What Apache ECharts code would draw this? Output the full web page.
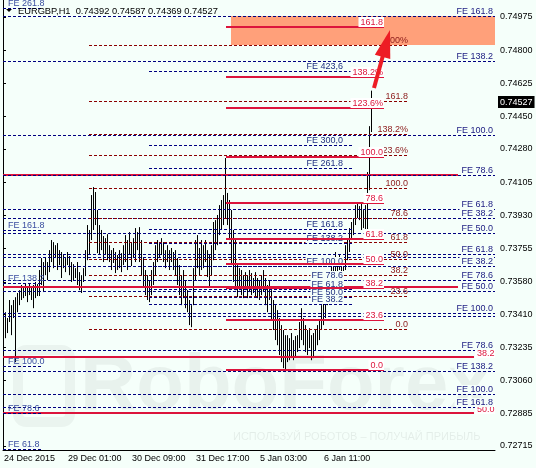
<!DOCTYPE html>
<html><head><meta charset="utf-8">
<script src="https://cdn.jsdelivr.net/npm/echarts@6/dist/echarts.min.js"></script>
<style>html,body{margin:0;padding:0;background:#F5FFFA}#c{width:536px;height:468px}</style>
</head><body><div id="c"></div>
<script>
// ---------- DATA ----------
const symbolName = 'EURGBP,H1';
const slotCount = 246;
const xTickIndex = [0, 32, 64, 96, 128, 160];
const xTickLabels = ['24 Dec 2015', '29 Dec 01:00', '30 Dec 09:00', '31 Dec 17:00', '5 Jan 03:00', '6 Jan 11:00'];
const yTickValues = [0.74975, 0.74800, 0.74625, 0.74450, 0.74280, 0.74105, 0.73930, 0.73755, 0.73580, 0.73410, 0.73235, 0.73060, 0.72885, 0.72715];
const yMin = 0.726939, yMax = 0.750646;

// H1 bars: [open, close, low, high]
const bars = [
[0.73431,0.73352,0.73326,0.73457],[0.73352,0.73389,0.73283,0.73420],[0.73389,0.73336,0.73310,0.73389],[0.73378,0.73457,0.73368,0.73484],
[0.73457,0.73326,0.73299,0.73457],[0.73405,0.73473,0.73389,0.73484],[0.73473,0.73484,0.73157,0.73499],[0.73484,0.73505,0.73420,0.73521],
[0.73494,0.73526,0.73457,0.73536],[0.73526,0.73536,0.73484,0.73563],[0.73536,0.73515,0.73494,0.73547],[0.73515,0.73547,0.73505,0.73573],
[0.73547,0.73505,0.73473,0.73557],[0.73510,0.73552,0.73510,0.73568],[0.73547,0.73499,0.73484,0.73552],[0.73499,0.73536,0.73441,0.73563],
[0.73536,0.73557,0.73494,0.73579],[0.73557,0.73536,0.73505,0.73568],[0.73536,0.73615,0.73505,0.73642],[0.73615,0.73684,0.73563,0.73705],
[0.73684,0.73563,0.73526,0.73684],[0.73631,0.73694,0.73615,0.73710],[0.73684,0.73615,0.73589,0.73684],[0.73642,0.73721,0.73631,0.73747],
[0.73721,0.73773,0.73684,0.73800],[0.73773,0.73684,0.73652,0.73789],[0.73705,0.73758,0.73705,0.73773],[0.73758,0.73668,0.73642,0.73784],
[0.73684,0.73721,0.73668,0.73747],[0.73721,0.73631,0.73600,0.73737],[0.73652,0.73694,0.73652,0.73721],[0.73694,0.73652,0.73631,0.73705],
[0.73668,0.73716,0.73668,0.73737],[0.73705,0.73642,0.73615,0.73716],[0.73642,0.73610,0.73579,0.73684],[0.73610,0.73652,0.73589,0.73673],
[0.73642,0.73615,0.73600,0.73652],[0.73615,0.73589,0.73563,0.73684],[0.73589,0.73557,0.73536,0.73631],[0.73557,0.73600,0.73521,0.73615],
[0.73600,0.73631,0.73579,0.73652],[0.73631,0.73721,0.73610,0.73747],[0.73721,0.73842,0.73694,0.73879],[0.73842,0.73758,0.73721,0.73853],
[0.73800,0.74011,0.73800,0.74037],[0.74011,0.73932,0.73853,0.74079],[0.73932,0.73984,0.73879,0.74053],[0.73958,0.73800,0.73731,0.73958],
[0.73800,0.73826,0.73721,0.73879],[0.73826,0.73773,0.73747,0.73853],[0.73773,0.73800,0.73684,0.73821],[0.73800,0.73747,0.73721,0.73810],
[0.73747,0.73800,0.73694,0.73831],[0.73758,0.73705,0.73684,0.73773],[0.73705,0.73684,0.73642,0.73747],[0.73684,0.73737,0.73679,0.73758],
[0.73721,0.73652,0.73626,0.73737],[0.73663,0.73694,0.73642,0.73721],[0.73694,0.73721,0.73652,0.73747],[0.73705,0.73652,0.73631,0.73731],
[0.73668,0.73747,0.73668,0.73773],[0.73747,0.73800,0.73684,0.73826],[0.73789,0.73684,0.73642,0.73800],[0.73721,0.73810,0.73721,0.73842],
[0.73773,0.73694,0.73663,0.73784],[0.73705,0.73789,0.73705,0.73810],[0.73773,0.73826,0.73684,0.73863],[0.73826,0.73768,0.73747,0.73842],
[0.73773,0.73721,0.73684,0.73868],[0.73721,0.73652,0.73615,0.73800],[0.73652,0.73589,0.73552,0.73705],[0.73589,0.73536,0.73510,0.73642],
[0.73536,0.73563,0.73484,0.73615],[0.73563,0.73510,0.73473,0.73589],[0.73510,0.73615,0.73510,0.73642],[0.73615,0.73668,0.73563,0.73684],
[0.73652,0.73747,0.73615,0.73773],[0.73747,0.73705,0.73684,0.73800],[0.73716,0.73758,0.73705,0.73784],[0.73758,0.73773,0.73721,0.73810],
[0.73773,0.73705,0.73684,0.73789],[0.73705,0.73726,0.73652,0.73747],[0.73726,0.73747,0.73684,0.73773],[0.73747,0.73668,0.73642,0.73747],
[0.73684,0.73737,0.73684,0.73758],[0.73726,0.73663,0.73642,0.73737],[0.73663,0.73705,0.73615,0.73747],[0.73694,0.73589,0.73563,0.73705],
[0.73589,0.73536,0.73510,0.73668],[0.73547,0.73494,0.73457,0.73615],[0.73505,0.73600,0.73494,0.73642],[0.73589,0.73473,0.73441,0.73589],
[0.73484,0.73441,0.73420,0.73536],[0.73452,0.73389,0.73352,0.73484],[0.73389,0.73431,0.73341,0.73457],[0.73457,0.73615,0.73457,0.73652],
[0.73615,0.73758,0.73589,0.73800],[0.73758,0.73705,0.73652,0.73826],[0.73705,0.73737,0.73615,0.73758],[0.73737,0.73684,0.73642,0.73800],
[0.73684,0.73747,0.73652,0.73773],[0.73747,0.73721,0.73684,0.73800],[0.73721,0.73642,0.73605,0.73747],[0.73642,0.73684,0.73552,0.73721],
[0.73684,0.73747,0.73615,0.73773],[0.73747,0.73863,0.73694,0.73895],[0.73863,0.73800,0.73747,0.73905],[0.73800,0.73895,0.73773,0.73932],
[0.73895,0.73947,0.73826,0.73984],[0.73947,0.73916,0.73853,0.74011],[0.73916,0.73984,0.73879,0.74037],[0.73984,0.74011,0.73916,0.74232],
[0.74011,0.73932,0.73879,0.74048],[0.73932,0.73826,0.73800,0.74011],[0.73826,0.73721,0.73668,0.73958],[0.73721,0.73642,0.73579,0.73853],
[0.73642,0.73589,0.73536,0.73800],[0.73589,0.73563,0.73499,0.73668],[0.73563,0.73615,0.73536,0.73652],[0.73615,0.73536,0.73510,0.73642],
[0.73536,0.73589,0.73494,0.73615],[0.73589,0.73563,0.73536,0.73631],[0.73563,0.73600,0.73494,0.73615],[0.73600,0.73547,0.73526,0.73642],
[0.73547,0.73589,0.73510,0.73626],[0.73589,0.73536,0.73521,0.73600],[0.73536,0.73600,0.73505,0.73631],[0.73600,0.73526,0.73494,0.73600],
[0.73526,0.73563,0.73484,0.73589],[0.73563,0.73536,0.73510,0.73615],[0.73536,0.73615,0.73526,0.73642],[0.73600,0.73484,0.73457,0.73600],
[0.73484,0.73536,0.73420,0.73563],[0.73536,0.73505,0.73484,0.73589],[0.73505,0.73405,0.73378,0.73536],[0.73405,0.73368,0.73326,0.73484],
[0.73368,0.73299,0.73273,0.73457],[0.73299,0.73352,0.73246,0.73431],[0.73352,0.73220,0.73194,0.73389],[0.73220,0.73273,0.73157,0.73352],
[0.73273,0.73167,0.73125,0.73326],[0.73167,0.73246,0.73115,0.73299],[0.73246,0.73194,0.73157,0.73299],[0.73194,0.73246,0.73167,0.73283],
[0.73246,0.73220,0.73178,0.73310],[0.73220,0.73246,0.73167,0.73273],[0.73246,0.73220,0.73183,0.73294],[0.73220,0.73273,0.73210,0.73299],
[0.73273,0.73336,0.73231,0.73368],[0.73336,0.73389,0.73273,0.73441],[0.73389,0.73273,0.73246,0.73389],[0.73273,0.73326,0.73210,0.73352],
[0.73326,0.73220,0.73194,0.73326],[0.73231,0.73299,0.73231,0.73336],[0.73299,0.73194,0.73167,0.73299],[0.73194,0.73273,0.73178,0.73310],
[0.73273,0.73246,0.73220,0.73326],[0.73246,0.73326,0.73246,0.73352],[0.73326,0.73352,0.73273,0.73378],[0.73352,0.73431,0.73326,0.73457],
[0.73431,0.73457,0.73352,0.73484],[0.73457,0.73510,0.73389,0.73536],[0.73510,0.73536,0.73457,0.73563],[0.73536,0.73589,0.73494,0.73615],
[0.73589,0.73652,0.73536,0.73684],[0.73652,0.73684,0.73589,0.73705],[0.73684,0.73652,0.73631,0.73737],[0.73652,0.73668,0.73615,0.73684],
[0.73668,0.73694,0.73642,0.73721],[0.73694,0.73615,0.73589,0.73694],[0.73615,0.73684,0.73615,0.73705],[0.73684,0.73747,0.73642,0.73773],
[0.73747,0.73789,0.73694,0.73810],[0.73789,0.73842,0.73737,0.73863],[0.73842,0.73874,0.73800,0.73895],[0.73874,0.73895,0.73826,0.73916],
[0.73895,0.73958,0.73879,0.73984],[0.73958,0.73947,0.73916,0.73995],[0.73947,0.73968,0.73905,0.73979],[0.73968,0.73879,0.73853,0.73995],
[0.73879,0.73932,0.73863,0.73958],[0.73932,0.73826,0.73800,0.73984],[0.73826,0.74090,0.73810,0.74158],[0.74090,0.74392,0.74063,0.74400],
[0.74392,0.74527,0.74369,0.74587]
];

// Fibo retracement (red, solid)
const fiboA_levels = ['161.8', '138.2%', '123.6%', '100.0', '78.6', '61.8', '50.0', '38.2', '23.6', '0.0'];
const fiboA_prices = [0.74922, 0.74659, 0.74497, 0.74236, 0.73996, 0.73805, 0.73673, 0.73547, 0.73380, 0.73115];
const fiboA_span = [111.5, 190.5];
// Fibo retracement (dark red, dashed)
const fiboB_levels = ['200%', '161.8', '138.2%', '123.6%', '100.0', '78.6', '61.8', '50.0', '38.2', '23.6', '0.0'];
const fiboB_prices = [0.74827, 0.74535, 0.74358, 0.74250, 0.74074, 0.73916, 0.73792, 0.73702, 0.73615, 0.73506, 0.73329];
const fiboB_span = [43.0, 202.5];
// Fibo expansion (navy, middle)
const fiboE_levels = ['FE 423,6', 'FE 300,0', 'FE 261.8', 'FE 161.8', 'FE 138.2', 'FE 100.0', 'FE 78.6', 'FE 61.8', 'FE 50.0', 'FE 38.2'];
const fiboE_prices = [0.74692, 0.74300, 0.74178, 0.73858, 0.73784, 0.73665, 0.73592, 0.73542, 0.73499, 0.73462];
const fiboE_span = [73.0, 175.5];
// Fibo expansions (navy, full width, labels at right)
const feRight_levels = ['FE 161.8', 'FE 138.2', 'FE 100.0', 'FE 78.6', 'FE 61.8', 'FE 38.2', 'FE 50.0', 'FE 61.8', '', 'FE 38.2', 'FE 78.6', 'FE 50.0', 'FE 100.0', '', 'FE 78.6', 'FE 138.2', 'FE 100.0', 'FE 161.8'];
const feRight_prices = [0.74980, 0.74743, 0.74353, 0.74142, 0.73963, 0.73917, 0.73838, 0.73724, 0.73712, 0.73663, 0.73592, 0.73531, 0.73414, 0.73399, 0.73220, 0.73111, 0.72987, 0.72921];
const feRight_span = [0, 246];
// Fibo expansion (navy, labels at left)
const feLeft_levels = ['FE 261.8', 'FE 161.8', 'FE 138.2', 'FE 100.0', 'FE 78.6', 'FE 61.8'];
const feLeft_prices = [0.75022, 0.73853, 0.73573, 0.73136, 0.72888, 0.72698];
const feLeft_span = [0, 19.5];
// Red long levels
const redLong_levels = ['', '', '38.2', '50.0'];
const redLong_prices = [0.74145, 0.73554, 0.73185, 0.72888];
const redLong_ends = [227.5, 227.5, 235.5, 235.5];
// Target zone [x1, x2, top, bottom] and arrow [x1, p1, x2, p2]
const zone = [114.0, 246, 0.74980, 0.74827];
const arrow = [185.5, 0.74601, 193.5, 0.74907];

// ---------- CHART ----------
const BG = '#F5FFFA';
const FONT = '9px "Liberation Sans", Arial, sans-serif';
const last = bars[bars.length - 1];
const lastClose = last[1];
const categories = Array.from({length: slotCount}, (_, i) => String(i));
const yLabelValues = yTickValues.concat([lastClose]);

function levelSeries(name, levels, prices, spans, st) {
  return {
    type: 'custom', name, xAxisIndex: 1, yAxisIndex: 0, z: st.z, clip: true, silent: true,
    data: prices.map((p, i) => [spans[i][0], spans[i][1], p, i]),
    renderItem: (params, api) => {
      const a = api.coord([api.value(0), api.value(2)]);
      const b = api.coord([api.value(1), api.value(2)]);
      const w = st.width;
      const y = (w % 2) ? Math.round(a[1]) + 0.5 : Math.round(a[1]);
      const kids = [{type: 'line', shape: {x1: a[0], y1: y, x2: b[0], y2: y},
        style: {stroke: st.color, lineWidth: w, lineDash: st.dash || null}}];
      const txt = levels[api.value(3)];
      if (txt) {
        kids.push({type: 'text', z2: 5, style: {
          text: txt, x: Math.round((st.at === 'start' ? a[0] : b[0]) + st.dx), y: Math.round(y + st.dy),
          align: st.align, verticalAlign: 'bottom', fill: st.labelColor, font: FONT,
          backgroundColor: st.bg || null, padding: st.pad || 0}});
      }
      return {type: 'group', children: kids};
    }
  };
}
const sp = (span, n) => Array.from({length: n}, () => span);
const AXFONT = '"Liberation Sans", Arial';

const option = {
  backgroundColor: BG,
  animation: false,
  grid: {left: 3, right: 41, top: 0, bottom: 18, containLabel: false, outerBoundsMode: 'none'},
  xAxis: [{
    type: 'category', data: categories, boundaryGap: true,
    axisLine: {lineStyle: {color: '#000', width: 1}},
    axisTick: {interval: (i) => xTickIndex.includes(i), length: 4, lineStyle: {color: '#000'}},
    axisLabel: {interval: (i) => xTickIndex.includes(i), align: 'left', color: '#000', fontSize: 9,
      fontFamily: AXFONT, margin: 4, hideOverlap: false,
      formatter: (v, i) => { const k = xTickIndex.indexOf(i); return k >= 0 ? xTickLabels[k] : ''; }},
    splitLine: {show: false}
  }, {type: 'value', min: 0, max: slotCount, show: false}],
  yAxis: [{
    type: 'value', position: 'right', min: yMin, max: yMax,
    axisLine: {show: true, lineStyle: {color: '#000', width: 1}},
    axisTick: {show: true, customValues: yTickValues, length: 3, lineStyle: {color: '#000'}},
    axisLabel: {show: true, customValues: yLabelValues, color: '#000', fontSize: 9,
      fontFamily: AXFONT, margin: 3, hideOverlap: false,
      formatter: (v) => Math.abs(v - lastClose) < 1e-9 ? '{cur|' + v.toFixed(5) + '}' : '{n|' + v.toFixed(5) + '}',
      rich: {
        n: {color: '#000', fontSize: 9, fontFamily: AXFONT, padding: [0, 0, 0, 2]},
        cur: {backgroundColor: '#000', color: '#fff', fontSize: 9, fontFamily: AXFONT, padding: [2, 2, 1, 2]}
      }},
    splitLine: {show: false}
  }, {
    type: 'value', position: 'left', min: yMin, max: yMax,
    axisLine: {show: true, lineStyle: {color: '#000', width: 1}},
    axisTick: {show: false}, axisLabel: {show: false}, splitLine: {show: false}
  }],
  graphic: [
    {type: 'text', x: 80, y: 426, z: 0, silent: true, style: {text: 'RoboForex', font: 'bold 78px "Liberation Sans", Arial', fill: 'rgba(0,0,0,0.05)', verticalAlign: 'bottom'}},
    {type: 'rect', z: 0, silent: true, shape: {x: 18, y: 350, width: 52, height: 72, r: 8}, style: {fill: 'none', stroke: 'rgba(0,0,0,0.045)', lineWidth: 10}},
    {type: 'text', x: 233, y: 437, z: 0, silent: true, style: {text: 'ИСПОЛЬЗУЙ РОБОТОВ – ПОЛУЧАЙ ПРИБЫЛЬ', font: '11px "Liberation Sans", Arial', fill: 'rgba(0,0,0,0.07)', verticalAlign: 'middle'}},
    {type: 'polygon', z: 100, silent: true, shape: {points: [[6, 9], [12, 9], [9, 12]]}, style: {fill: '#000'}},
    {type: 'text', x: 18, y: 11, z: 100, silent: true, style: {
      text: symbolName + '  ' + last[0].toFixed(5) + ' ' + last[3].toFixed(5) + ' ' + last[2].toFixed(5) + ' ' + last[1].toFixed(5),
      font: '9.3px "Liberation Sans", Arial', fill: '#000', verticalAlign: 'middle'}}
  ],
  series: [
    {type: 'custom', name: 'zone', xAxisIndex: 1, yAxisIndex: 0, z: 1, clip: true, silent: true,
      data: [zone],
      renderItem: (params, api) => {
        const p1 = api.coord([api.value(0), api.value(2)]);
        const p2 = api.coord([api.value(1), api.value(3)]);
        return {type: 'rect', shape: {x: Math.round(p1[0]), y: Math.round(p1[1]), width: p2[0] - p1[0], height: Math.round(p2[1]) - Math.round(p1[1])}, style: {fill: '#FFA07A'}};
      }},
    {type: 'candlestick', name: symbolName, xAxisIndex: 0, yAxisIndex: 0, z: 2, data: bars, barWidth: 0.2, silent: true,
      itemStyle: {color: '#000', color0: '#000', borderColor: '#000', borderColor0: '#000', borderWidth: 1}},
    levelSeries('redLong', redLong_levels, redLong_prices, redLong_ends.map(e => [0, e]),
      {z: 3, width: 2, color: '#DC143C', labelColor: '#DC143C', at: 'end', dx: 1, dy: 1, align: 'left', bg: '#FFFFFF', pad: [1, 2, 0, 2]}),
    levelSeries('feRight', feRight_levels, feRight_prices, sp(feRight_span, feRight_prices.length),
      {z: 3, width: 1, color: '#000080', dash: [3, 2], labelColor: '#1a1a80', at: 'end', dx: -1, dy: -1, align: 'right', bg: BG, pad: [0, 1, 0, 2]}),
    levelSeries('feLeft', feLeft_levels, feLeft_prices, sp(feLeft_span, feLeft_prices.length),
      {z: 3, width: 1, color: '#000080', dash: [3, 2], labelColor: '#3a4ea0', at: 'start', dx: 5, dy: -1, align: 'left'}),
    levelSeries('fiboB', fiboB_levels, fiboB_prices, sp(fiboB_span, fiboB_prices.length),
      {z: 3, width: 1, color: '#8B0000', dash: [3, 2], labelColor: '#8B1A1A', at: 'end', dx: 0, dy: -1, align: 'right'}),
    levelSeries('fiboE', fiboE_levels, fiboE_prices, sp(fiboE_span, fiboE_prices.length),
      {z: 3, width: 1, color: '#000080', dash: [3, 2], labelColor: '#203080', at: 'end', dx: -10, dy: -1, align: 'right', bg: BG, pad: [0, 1, 0, 1]}),
    levelSeries('fiboA', fiboA_levels, fiboA_prices, sp(fiboA_span, fiboA_prices.length),
      {z: 4, width: 2, color: '#DC143C', labelColor: '#DC143C', at: 'end', dx: 0, dy: 0, align: 'right', bg: '#FFFFFF', pad: [1, 1, 0, 2]}),
    {type: 'custom', name: 'arrow', xAxisIndex: 1, yAxisIndex: 0, z: 5, clip: true, silent: true,
      data: [arrow],
      renderItem: (params, api) => {
        const a = api.coord([api.value(0), api.value(1)]);
        const b = api.coord([api.value(2), api.value(3)]);
        const dx = b[0] - a[0], dy = b[1] - a[1], L = Math.hypot(dx, dy), ux = dx / L, uy = dy / L;
        const hl = 28, hw = 8;
        const bx = b[0] - ux * hl, by = b[1] - uy * hl;
        return {type: 'group', children: [
          {type: 'line', shape: {x1: a[0], y1: a[1], x2: bx + ux * 3, y2: by + uy * 3}, style: {stroke: '#ED1C24', lineWidth: 4}},
          {type: 'polygon', shape: {points: [[b[0], b[1]], [bx - uy * hw, by + ux * hw], [bx + uy * hw, by - ux * hw]]}, style: {fill: '#ED1C24'}}
        ]};
      }}
  ]
};
const chart = echarts.init(document.getElementById('c'), null, {renderer: 'canvas'});
chart.setOption(option);
</script>
</body></html>
